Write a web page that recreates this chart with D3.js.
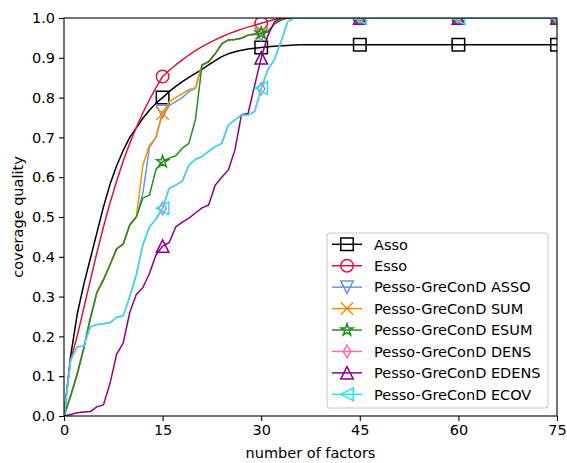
<!DOCTYPE html>
<html>
<head>
<meta charset="utf-8">
<script src="https://cdn.jsdelivr.net/npm/d3@7"></script>
<style>
html,body{margin:0;padding:0;background:#fff;}
svg{display:block;font-family:"DejaVu Sans",sans-serif;}
</style>
</head>
<body>
<svg id="chart" width="567" height="463"></svg>
<script>
// ---- data ----
const factors = [0,1,2,3,4,5,6,7,8,9,10,11,12,13,14,15,16,17,18,19,20,21,22,23,24,25,26,27,28,29,30,31,32,33,34,35,36,45,60,75];
const markerFactors = [15,30,45,60,75];
const xTicks = [0,15,30,45,60,75];
const yTicks = [0,0.1,0.2,0.3,0.4,0.5,0.6,0.7,0.8,0.9,1.0];

const asso = [0,0.15,0.255,0.33,0.395,0.46,0.525,0.582,0.628,0.667,0.70,0.724,0.748,0.768,0.786,0.80,0.815,0.828,0.84,0.851,0.861,0.871,0.882,0.893,0.903,0.91,0.915,0.919,0.922,0.924,0.926,0.928,0.929,0.930,0.931,0.932,0.933,0.933,0.933,0.933];
const esso = [0,0.14,0.20,0.27,0.34,0.41,0.475,0.535,0.59,0.64,0.685,0.725,0.762,0.795,0.825,0.853,0.868,0.882,0.895,0.907,0.918,0.928,0.937,0.945,0.953,0.96,0.966,0.972,0.977,0.982,0.987,0.992,0.996,1,1,1,1,1,1,1];
const pgAsso = [0,0.05,0.105,0.17,0.245,0.31,0.342,0.38,0.42,0.432,0.48,0.50,0.56,0.675,0.70,0.765,0.78,0.79,0.80,0.815,0.823,0.882,0.89,0.91,0.935,0.945,0.946,0.949,0.957,0.958,0.958,0.965,0.985,0.995,1,1,1,1,1,1];
const pgSum = [0,0.05,0.105,0.17,0.245,0.31,0.342,0.38,0.42,0.432,0.48,0.50,0.63,0.68,0.70,0.76,0.79,0.80,0.81,0.82,0.825,0.882,0.89,0.91,0.935,0.945,0.946,0.949,0.957,0.96,0.962,0.965,0.985,0.995,1,1,1,1,1,1];
const pgEsum = [0,0.05,0.105,0.17,0.245,0.31,0.342,0.38,0.42,0.432,0.48,0.50,0.548,0.555,0.62,0.639,0.648,0.654,0.673,0.685,0.745,0.882,0.89,0.91,0.935,0.945,0.946,0.949,0.957,0.96,0.962,0.965,0.985,0.995,1,1,1,1,1,1];
const pgDens = [0,0.14,0.174,0.176,0.224,0.23,0.232,0.234,0.248,0.251,0.30,0.355,0.43,0.475,0.495,0.522,0.572,0.58,0.59,0.63,0.645,0.652,0.665,0.677,0.685,0.731,0.744,0.756,0.756,0.765,0.822,0.87,0.895,0.94,0.99,1,1,1,1,1];
const pgEdens = [0,0.004,0.008,0.01,0.011,0.023,0.028,0.082,0.155,0.183,0.26,0.305,0.323,0.358,0.405,0.427,0.436,0.475,0.487,0.497,0.51,0.523,0.53,0.58,0.60,0.618,0.668,0.757,0.76,0.83,0.90,0.955,0.99,1,1,1,1,1,1,1];
const pgEcov = [0,0.14,0.174,0.176,0.224,0.23,0.232,0.234,0.248,0.251,0.30,0.355,0.43,0.475,0.495,0.522,0.572,0.58,0.59,0.63,0.645,0.652,0.665,0.677,0.685,0.731,0.744,0.756,0.756,0.765,0.824,0.87,0.895,0.94,0.99,1,1,1,1,1];

const seriesNames = ["Asso","Esso","Pesso-GreConD ASSO","Pesso-GreConD SUM","Pesso-GreConD ESUM","Pesso-GreConD DENS","Pesso-GreConD EDENS","Pesso-GreConD ECOV"];
const seriesValues = [asso, esso, pgAsso, pgSum, pgEsum, pgDens, pgEdens, pgEcov];
const seriesColors = ["#000000","#dc143c","#6495ed","#ff8c00","#228b22","#ff69b4","#8b008b","#1fe6f6"];
const seriesMarkers = ["square","circle","tridown","x","star","thindiamond","triup","trileft"];

// ---- layout ----
const W = 567, H = 463;
const m = {left:64, right:557, top:18, bottom:416};
const FONT = 14.5;

const svg = d3.select("#chart");
const x = d3.scaleLinear().domain([0,75]).range([m.left, m.right]);
const y = d3.scaleLinear().domain([0,1]).range([m.bottom, m.top]);

svg.append("defs").append("clipPath").attr("id","clip")
  .append("rect").attr("x",m.left).attr("y",m.top)
  .attr("width",m.right-m.left).attr("height",m.bottom-m.top);

function markerPath(type, s){
  const r = s/2;
  const p = d3.path();
  switch(type){
    case "square": p.rect(-r,-r,s,s); break;
    case "circle": p.moveTo(r,0); p.arc(0,0,r,0,2*Math.PI); p.closePath(); break;
    case "tridown": p.moveTo(0,r); p.lineTo(-r,-r); p.lineTo(r,-r); p.closePath(); break;
    case "triup": p.moveTo(0,-r); p.lineTo(-r,r); p.lineTo(r,r); p.closePath(); break;
    case "trileft": p.moveTo(-r,0); p.lineTo(r,-r); p.lineTo(r,r); p.closePath(); break;
    case "x": p.moveTo(-r,-r); p.lineTo(r,r); p.moveTo(-r,r); p.lineTo(r,-r); break;
    case "thindiamond": p.moveTo(0,-r); p.lineTo(0.6*r,0); p.lineTo(0,r); p.lineTo(-0.6*r,0); p.closePath(); break;
    case "star": {
      const inner = r*0.381966;
      for(let i=0;i<10;i++){
        const rr = i%2===0 ? r : inner;
        const a = -Math.PI/2 + i*Math.PI/5;
        const px = rr*Math.cos(a), py = rr*Math.sin(a);
        if(i===0) p.moveTo(px,py); else p.lineTo(px,py);
      }
      p.closePath(); break;
    }
  }
  return p.toString();
}
const MS = 12.5;

// ---- series ----
const plot = svg.append("g").attr("clip-path","url(#clip)");
const line = d3.line().x((d,i)=>x(factors[i])).y(d=>y(d));

seriesValues.forEach((vals, si)=>{
  const g = plot.append("g");
  g.append("path").datum(vals).attr("d", line)
    .attr("fill","none").attr("stroke",seriesColors[si]).attr("stroke-width",1.5)
    .attr("stroke-linejoin","round");
  const mk = factors.map((f,i)=>({f, v:vals[i]})).filter(d=>markerFactors.includes(d.f));
  g.selectAll("path.mk").data(mk).enter().append("path").attr("class","mk")
    .attr("transform", d=>`translate(${x(d.f)},${y(d.v)})`)
    .attr("d", markerPath(seriesMarkers[si], MS))
    .attr("fill","none").attr("stroke",seriesColors[si]).attr("stroke-width",1.5);
});

// ---- axes ----
const xAxis = d3.axisBottom(x).tickValues(xTicks).tickFormat(d3.format("d")).tickSizeOuter(0).tickSize(5).tickPadding(4);
const yAxis = d3.axisLeft(y).tickValues(yTicks).tickFormat(d3.format(".1f")).tickSizeOuter(0).tickSize(5).tickPadding(4);
const gx = svg.append("g").attr("transform",`translate(0,${m.bottom})`).call(xAxis);
const gy = svg.append("g").attr("transform",`translate(${m.left},0)`).call(yAxis);
[gx,gy].forEach(g=>{
  g.select(".domain").remove();
  g.selectAll("line").attr("stroke","#000").attr("stroke-width",1.1);
  g.selectAll("text").attr("font-size",FONT).attr("font-family","DejaVu Sans").attr("fill","#000");
});
svg.append("rect").attr("x",m.left).attr("y",m.top).attr("width",m.right-m.left).attr("height",m.bottom-m.top)
  .attr("fill","none").attr("stroke","#000").attr("stroke-width",1.1);

svg.append("text").attr("x",(m.left+m.right)/2).attr("y",458).attr("text-anchor","middle")
  .attr("font-size",FONT).text("number of factors");
svg.append("text").attr("transform",`translate(23,${(m.top+m.bottom)/2}) rotate(-90)`).attr("text-anchor","middle")
  .attr("font-size",FONT).text("coverage quality");

// ---- legend ----
const lg = svg.append("g");
lg.append("rect").attr("x",327).attr("y",233).attr("width",221).attr("height",175).attr("rx",3)
  .attr("fill","#fff").attr("fill-opacity",0.85).attr("stroke","#cccccc").attr("stroke-width",1.1);
const rowY = d3.scaleLinear().domain([0,7]).range([244.3,394.3]);
seriesNames.forEach((name,si)=>{
  const yy = rowY(si);
  lg.append("line").attr("x1",332).attr("x2",362).attr("y1",yy).attr("y2",yy)
    .attr("stroke",seriesColors[si]).attr("stroke-width",1.5);
  lg.append("path").attr("transform",`translate(347,${yy})`).attr("d",markerPath(seriesMarkers[si],MS))
    .attr("fill","none").attr("stroke",seriesColors[si]).attr("stroke-width",1.5);
  lg.append("text").attr("x",374).attr("y",yy).attr("dy","0.36em").attr("font-size",FONT).text(name);
});
</script>
</body>
</html>
